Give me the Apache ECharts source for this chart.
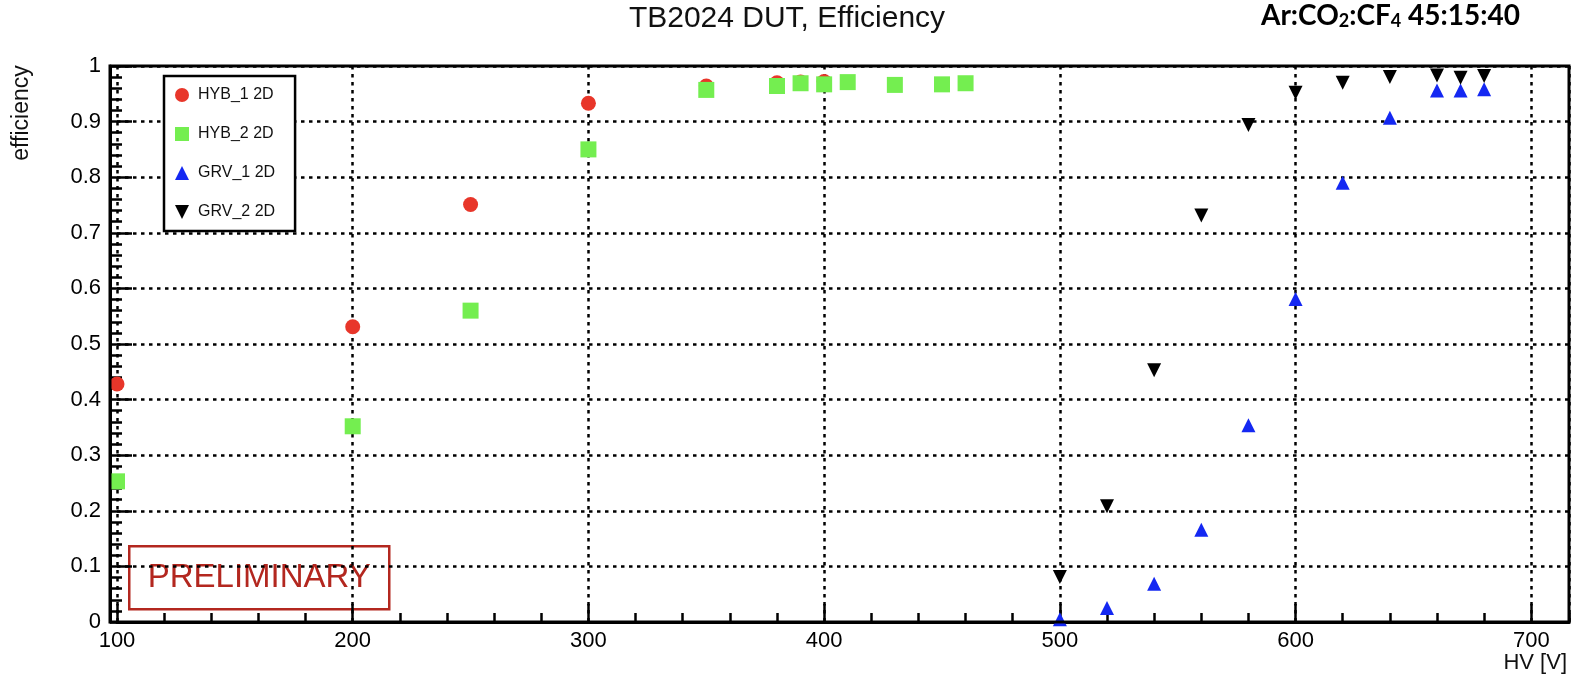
<!DOCTYPE html>
<html>
<head>
<meta charset="utf-8">
<script src="https://cdn.jsdelivr.net/npm/echarts@6/dist/echarts.min.js"></script>
<style>
  html, body { margin: 0; padding: 0; background: #ffffff; }
  #chart { width: 1574px; height: 675px; }
</style>
</head>
<body>
<div id="chart"></div>
<script>
// Efficiency vs. high voltage for the four detectors under test
const hvHyb1 = [100, 200, 250, 300, 350, 380, 390, 400];
const effHyb1 = [0.428, 0.531, 0.751, 0.933, 0.964, 0.970, 0.971, 0.972];

const hvHyb2 = [100, 200, 250, 300, 350, 380, 390, 400, 410, 430, 450, 460];
const effHyb2 = [0.253, 0.352, 0.560, 0.850, 0.957, 0.964, 0.969, 0.967, 0.971, 0.966, 0.967, 0.969];

const hvGrv1 = [500, 520, 540, 560, 580, 600, 620, 640, 660, 670, 680];
const effGrv1 = [0.005, 0.025, 0.069, 0.166, 0.354, 0.581, 0.790, 0.907, 0.956, 0.956, 0.958];

const hvGrv2 = [500, 520, 540, 560, 580, 600, 620, 640, 660, 670, 680];
const effGrv2 = [0.081, 0.208, 0.453, 0.731, 0.894, 0.952, 0.970, 0.980, 0.983, 0.979, 0.982];

const seriesNames = ['HYB_1 2D', 'HYB_2 2D', 'GRV_1 2D', 'GRV_2 2D'];
const xTickLabels = ['100', '200', '300', '400', '500', '600', '700'];

const FONT = '"Liberation Sans", Arial, Helvetica, sans-serif';
const BOLD_FONT = 'Lato, "Open Sans", sans-serif';
const DOWN_TRIANGLE = 'path://M0,0L10,0L5,10Z';

const pairs = (xs, ys) => xs.map((x, i) => [x, ys[i]]);

const chart = echarts.init(document.getElementById('chart'), null, { renderer: 'canvas' });

const dotted = { color: '#000', width: 2.5, type: [3.5, 4.5] };

chart.setOption({
  animation: false,
  backgroundColor: '#ffffff',
  title: {
    text: 'TB2024 DUT, Efficiency',
    left: 'center',
    top: 4,
    padding: 0,
    textStyle: { fontFamily: FONT, fontSize: 30, fontWeight: 'normal', color: '#111' }
  },
  grid: [
    // plotting area (value 100 .. 716 along x)
    { left: 117, right: 5, top: 66, bottom: 53, containLabel: false },
    // outer frame of the pad
    { left: 110, right: 5, top: 66, bottom: 53, show: true, borderColor: '#000', borderWidth: 3, backgroundColor: 'transparent', z: 5 }
  ],
  legend: {
    orient: 'vertical',
    left: 164,
    top: 76,
    padding: [11, 20, 11, 11],
    itemGap: 23,
    itemWidth: 14,
    itemHeight: 14,
    borderColor: '#000',
    borderWidth: 2.5,
    backgroundColor: '#fff',
    textStyle: { fontFamily: FONT, fontSize: 16, color: '#111', padding: [0, 0, 0, 4] },
    data: [
      { name: seriesNames[0], icon: 'circle' },
      { name: seriesNames[1], icon: 'rect' },
      { name: seriesNames[2], icon: 'triangle' },
      { name: seriesNames[3], icon: DOWN_TRIANGLE }
    ],
    z: 10
  },
  xAxis: [
    {
      gridIndex: 0,
      type: 'value',
      min: 100,
      max: 716,
      interval: 100,
      axisLine: { show: true, onZero: false, lineStyle: { color: '#000', width: 3 } },
      axisTick: { show: true, inside: true, length: 18, lineStyle: { color: '#000', width: 2.5 } },
      axisLabel: {
        show: true,
        margin: 8,
        color: '#000',
        fontFamily: FONT,
        fontSize: 22,
        showMaxLabel: false,
        formatter: (v) => (xTickLabels.indexOf(String(v)) >= 0 ? String(v) : '')
      },
      splitLine: { show: true, lineStyle: dotted }
    },
    {
      // fine 20 V ticks along the bottom edge
      gridIndex: 0,
      type: 'value',
      position: 'bottom',
      min: 100,
      max: 716,
      interval: 20,
      axisLine: { show: false },
      axisTick: { show: true, inside: true, length: 9, lineStyle: { color: '#000', width: 2.5 } },
      axisLabel: { show: false },
      splitLine: { show: false }
    },
    { gridIndex: 1, type: 'value', show: false, min: 0, max: 1 }
  ],
  yAxis: [
    {
      gridIndex: 0,
      type: 'value',
      min: 0,
      max: 1,
      interval: 0.1,
      offset: 7,
      axisLine: { show: true, onZero: false, lineStyle: { color: '#000', width: 3 } },
      axisTick: { show: true, inside: true, length: 22, lineStyle: { color: '#000', width: 2.5 } },
      minorTick: { show: true, splitNumber: 5, length: 12, lineStyle: { color: '#000', width: 2.5 } },
      axisLabel: { margin: 9, color: '#000', fontFamily: FONT, fontSize: 22 },
      splitLine: { show: true, lineStyle: dotted }
    },
    { gridIndex: 1, type: 'value', show: false, min: 0, max: 1 }
  ],
  graphic: [
    {
      type: 'text',
      x: 22,
      y: 113,
      rotation: Math.PI / 2,
      style: {
        text: 'efficiency',
        fontFamily: FONT,
        fontSize: 23,
        fill: '#111',
        align: 'center',
        verticalAlign: 'middle'
      }
    },
    {
      type: 'text',
      right: 7,
      top: 652,
      style: { text: 'HV [V]', fontFamily: FONT, fontSize: 22, fill: '#111' }
    },
    {
      type: 'text',
      left: 1261,
      top: 2,
      style: {
        text: '{b|Ar:CO}{s|2}{b|:CF}{s|4}{b| 45:15:40}',
        rich: {
          b: { fontFamily: BOLD_FONT, fontSize: 28, fontWeight: 'bold', fill: '#000' },
          s: { fontFamily: BOLD_FONT, fontSize: 18, fontWeight: 'bold', fill: '#000', verticalAlign: 'bottom' }
        }
      }
    },
    {
      type: 'group',
      left: 128,
      top: 545,
      z: 20,
      children: [
        {
          type: 'rect',
          shape: { x: 0, y: 0, width: 260, height: 63 },
          style: { fill: '#fff', stroke: '#b3271f', lineWidth: 2.5 }
        },
        {
          type: 'text',
          x: 130,
          y: 32,
          style: {
            text: 'PRELIMINARY',
            fontFamily: FONT,
            fontSize: 33,
            fill: '#b3271f',
            align: 'center',
            verticalAlign: 'middle'
          }
        }
      ]
    }
  ],
  series: [
    {
      name: seriesNames[0],
      type: 'scatter',
      xAxisIndex: 0, yAxisIndex: 0,
      symbol: 'circle',
      symbolSize: 15,
      itemStyle: { color: '#e8362a', opacity: 1 },
      data: pairs(hvHyb1, effHyb1),
      z: 3
    },
    {
      name: seriesNames[1],
      type: 'scatter',
      xAxisIndex: 0, yAxisIndex: 0,
      symbol: 'rect',
      symbolSize: 16,
      itemStyle: { color: '#74ee50', opacity: 1 },
      data: pairs(hvHyb2, effHyb2),
      z: 3
    },
    {
      name: seriesNames[2],
      type: 'scatter',
      xAxisIndex: 0, yAxisIndex: 0,
      symbol: 'triangle',
      symbolSize: [14, 14],
      itemStyle: { color: '#1428f2', opacity: 1 },
      data: pairs(hvGrv1, effGrv1),
      z: 3
    },
    {
      name: seriesNames[3],
      type: 'scatter',
      xAxisIndex: 0, yAxisIndex: 0,
      symbol: DOWN_TRIANGLE,
      symbolSize: [14, 14],
      itemStyle: { color: '#000', opacity: 1 },
      data: pairs(hvGrv2, effGrv2),
      z: 3
    }
  ]
});
</script>
</body>
</html>
